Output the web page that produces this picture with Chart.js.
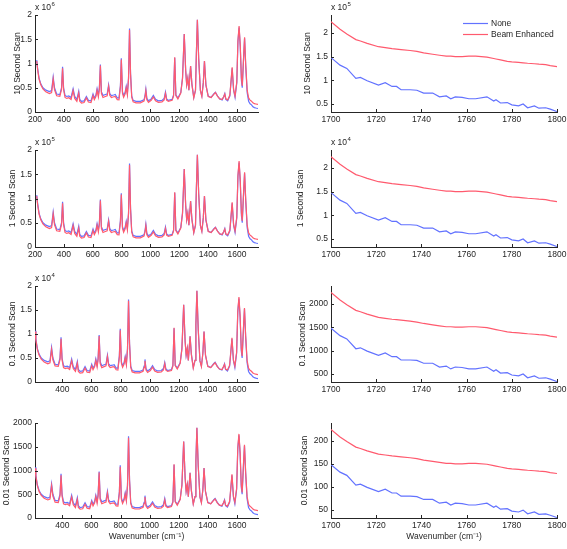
<!DOCTYPE html>
<html lang="en">
  <head>
    <title>Beam enhanced Raman scans</title>
    <script src="https://cdn.jsdelivr.net/npm/chart.js@4.4.1/dist/chart.umd.min.js"></script>
    <style>
      body { margin: 0; width: 567px; height: 549px; overflow: hidden; background: #fff; position: relative; }
      canvas { position: absolute; }
    </style>
  </head>
  <body>
    <div id="figure"></div>
    <script>
      // Full spectrum, counts of the 0.01 s scan (left column)
      const specX = [212, 218, 228, 240, 255, 275, 300, 315, 326, 335, 350, 372, 384, 391, 398, 408, 420, 434, 450, 464,
        475, 490, 503, 510, 522, 540, 556, 570, 588, 602, 611, 622, 630, 639, 646, 653, 660, 671, 687, 700,
        710, 718, 729, 745, 756, 770, 782, 792, 798, 806, 814, 824, 832, 840, 848, 855, 862, 870, 880, 900,
        930, 955, 962, 968, 975, 986, 1005, 1020, 1035, 1055, 1080, 1095, 1104, 1112, 1124, 1150, 1160, 1168, 1176, 1190,
        1210, 1222, 1234, 1244, 1251, 1259, 1266, 1278, 1287, 1300, 1312, 1318, 1325, 1334, 1346, 1356, 1366, 1374, 1384, 1400,
        1420, 1440, 1450, 1465, 1480, 1497, 1508, 1515, 1522, 1535, 1550, 1566, 1576, 1586, 1598, 1606, 1614, 1622, 1630, 1636,
        1645, 1652, 1660, 1670, 1680, 1690, 1700, 1710, 1720, 1730, 1745];
      const specNone = [1070, 900, 700, 580, 500, 450, 420, 440, 720, 500, 370, 360, 500, 930, 500, 340, 320, 330, 300, 480,
        320, 260, 430, 260, 220, 230, 320, 240, 230, 370, 290, 350, 480, 350, 500, 980, 420, 340, 360, 370,
        560, 380, 340, 350, 360, 290, 290, 550, 1110, 420, 340, 400, 530, 380, 700, 1720, 800, 330, 240, 220,
        220, 250, 330, 470, 280, 230, 270, 340, 260, 230, 240, 280, 410, 270, 240, 260, 350, 1120, 350, 290,
        400, 700, 1610, 850, 560, 700, 450, 950, 580, 300, 450, 1200, 1900, 1100, 440, 330, 600, 1050, 560, 330,
        300, 380, 410, 330, 270, 250, 320, 380, 260, 230, 330, 900, 450, 300, 600, 1450, 1740, 1350, 650, 500,
        1100, 1520, 950, 400, 220, 170, 148, 108, 90, 82, 72];
      const specBeam = [1050, 880, 680, 560, 475, 415, 380, 400, 680, 460, 335, 325, 465, 900, 460, 300, 280, 295, 260, 440,
        280, 220, 390, 220, 185, 195, 290, 205, 195, 340, 255, 320, 450, 310, 470, 960, 385, 300, 320, 335,
        530, 345, 300, 315, 320, 255, 250, 520, 1080, 390, 305, 370, 500, 355, 680, 1690, 780, 305, 210, 190,
        190, 225, 305, 440, 250, 200, 240, 310, 230, 200, 210, 250, 380, 245, 220, 240, 330, 1130, 340, 270,
        390, 690, 1610, 850, 560, 710, 450, 950, 570, 290, 450, 1200, 1900, 1100, 440, 320, 600, 1050, 560, 320,
        300, 370, 400, 320, 270, 260, 320, 370, 270, 250, 350, 920, 460, 330, 620, 1480, 1770, 1380, 700, 540,
        1120, 1540, 970, 450, 290, 245, 224, 188, 171, 165, 155];

      // 1700-1800 cm-1 detail, counts of the 0.01 s scan (right column)
      const zoomX = [1700, 1704, 1707, 1711, 1713, 1716, 1721, 1724, 1727, 1729, 1731, 1735, 1738, 1741, 1745, 1748, 1751, 1753,
        1755, 1758, 1761, 1764, 1769, 1772, 1773, 1775, 1778, 1780, 1783, 1785, 1787, 1790, 1792, 1795, 1797, 1800];
      const zoomNone = [148, 132, 125, 104, 106, 99, 90, 95, 87, 87, 80, 80, 79, 73, 73, 65, 67, 61,
        65, 64, 61, 61, 65, 56, 59, 52, 53, 48, 46, 50, 42, 46, 41, 42, 39, 34];
      const zoomBeam = [224, 208, 198, 186, 183, 178, 171, 169, 167, 166, 165, 163, 161, 158, 155, 153, 151, 151,
        150, 150, 151, 151, 149, 146, 145, 143, 140, 139, 138, 137, 136, 135, 134, 133, 131, 129];

      const scanLabels = ["10 Second Scan", "1 Second Scan", "0.1 Second Scan", "0.01 Second Scan"];
      const scanFactor = [1000, 100, 10, 1];
      const seriesLabels = ["None", "Beam Enhanced"];
      const specExponent = [6, 5, 4, 0];
      const zoomExponent = [5, 4, 0, 0];
      const specXTicks = [200, 400, 600, 800, 1000, 1200, 1400, 1600];
      const zoomXTicks = [1700, 1720, 1740, 1760, 1780, 1800];
      const specYTicks = [0, 500, 1000, 1500, 2000];
      const zoomYTicks = [50, 100, 150, 200];

      const blue = "#6272ff";
      const red = "#ff5a6e";
      const ink = "#262626";
      const fontFamily = "'Liberation Sans', Arial, sans-serif";
      const fontSize = 8.5;

      // layout of the 4x2 grid of axes
      const rowTop = [15, 150, 286, 423];
      const rowBottom = [112, 247, 382, 518];
      const colCanvasX = [0, 290];
      const colLeft = [35, 331];
      const colRight = [258, 557];
      // x centre of the rotated y-axis titles, per row, for each column
      const titleX = [[18, 13, 13, 7], [308, 301, 303, 305]];

      const decor = {
        id: "decor",
        afterDraw(chart, args, opts) {
          const { ctx, chartArea: a, scales } = chart;
          ctx.save();
          ctx.strokeStyle = ink;
          ctx.lineWidth = 1;
          ctx.beginPath();
          scales.x.ticks.forEach(t => {
            const px = Math.round(scales.x.getPixelForValue(t.value)) + 0.5;
            ctx.moveTo(px, a.bottom);
            ctx.lineTo(px, a.bottom - 3);
          });
          scales.y.ticks.forEach(t => {
            const py = Math.round(scales.y.getPixelForValue(t.value)) + 0.5;
            ctx.moveTo(a.left, py);
            ctx.lineTo(a.left + 3, py);
          });
          ctx.stroke();

          ctx.fillStyle = ink;
          ctx.textBaseline = "middle";
          ctx.textAlign = "left";
          if (opts.exponent) {
            ctx.font = fontSize + "px " + fontFamily;
            ctx.fillText("x 10", a.left, a.top - 7);
            const w = ctx.measureText("x 10").width;
            ctx.font = "6px " + fontFamily;
            ctx.fillText(String(opts.exponent), a.left + w + 0.5, a.top - 11);
          }
          if (opts.legend) {
            ctx.font = fontSize + "px " + fontFamily;
            ctx.lineWidth = 1.2;
            chart.data.datasets.forEach((ds, i) => {
              const y = a.top + 8.5 + i * 11;
              const x0 = a.left + 132;
              ctx.strokeStyle = ds.borderColor;
              ctx.beginPath();
              ctx.moveTo(x0, y);
              ctx.lineTo(x0 + 25, y);
              ctx.stroke();
              ctx.fillText(ds.label, x0 + 28, y);
            });
          }
          ctx.restore();
        }
      };

      function makeTicks(values) {
        return scale => {
          scale.ticks = values.filter(v => v >= scale.min - 1e-9 && v <= scale.max + 1e-9).map(v => ({ value: v }));
        };
      }

      function panel(row, col) {
        const cx = colCanvasX[col];
        const cy = rowTop[row] - 15;
        const bottomSpace = row === 3 ? 549 - rowBottom[row] : 22;
        const w = 290;
        const h = rowBottom[row] + bottomSpace - cy;

        const canvas = document.createElement("canvas");
        canvas.width = w;
        canvas.height = h;
        canvas.style.left = cx + "px";
        canvas.style.top = cy + "px";
        document.getElementById("figure").appendChild(canvas);

        const f = scanFactor[row];
        const xs = col === 0 ? specX : zoomX;
        const none = col === 0 ? specNone : zoomNone;
        const beam = col === 0 ? specBeam : zoomBeam;
        const exponent = col === 0 ? specExponent[row] : zoomExponent[row];
        const divisor = exponent ? Math.pow(10, exponent) : 1;
        const font = { family: fontFamily, size: fontSize };

        const xMin = col === 0 ? (row < 2 ? 200 : 212) : 1700;
        const xMax = col === 0 ? 1745 : 1800;
        const yMin = col === 0 ? 0 : 33 * f;
        const yMax = col === 0 ? 2000 * f : 238 * f;

        new Chart(canvas.getContext("2d"), {
          type: "line",
          data: {
            datasets: [
              { label: seriesLabels[0], data: xs.map((x, i) => ({ x: x, y: none[i] * f })), borderColor: blue, order: 2 },
              { label: seriesLabels[1], data: xs.map((x, i) => ({ x: x, y: beam[i] * f })), borderColor: red, order: 1 }
            ]
          },
          options: {
            responsive: false,
            animation: false,
            devicePixelRatio: 1,
            datasets: { line: { borderWidth: 1.2, pointRadius: 0, tension: 0, fill: false } },
            layout: { padding: { left: 0, top: 15, right: cx + w - colRight[col], bottom: 0 } },
            plugins: {
              legend: { display: false },
              tooltip: { enabled: false },
              decor: { exponent: exponent, legend: row === 0 && col === 1 }
            },
            scales: {
              x: {
                type: "linear",
                min: xMin,
                max: xMax,
                afterFit: s => { s.height = bottomSpace; },
                afterBuildTicks: makeTicks(col === 0 ? specXTicks : zoomXTicks),
                grid: { drawOnChartArea: false, drawTicks: false },
                border: { color: ink, width: 1 },
                ticks: { color: ink, font: font, padding: 3, maxRotation: 0, autoSkip: false, callback: v => String(v) },
                title: {
                  display: row === 3,
                  text: "Wavenumber (cm\u207B\u00B9)",
                  color: ink,
                  font: font,
                  padding: { top: 0, bottom: 7 }
                }
              },
              y: {
                min: yMin,
                max: yMax,
                afterFit: s => { s.width = colLeft[col] - cx; },
                afterBuildTicks: makeTicks((col === 0 ? specYTicks : zoomYTicks).map(v => v * f)),
                grid: { drawOnChartArea: false, drawTicks: false },
                border: { color: ink, width: 1 },
                ticks: { color: ink, font: font, padding: 3, autoSkip: false, callback: v => String(+(v / divisor).toFixed(3)) },
                title: {
                  display: true,
                  text: scanLabels[row],
                  color: ink,
                  font: font,
                  padding: { top: titleX[col][row] - cx - fontSize * 0.6, bottom: 0 }
                }
              }
            }
          },
          plugins: [decor]
        });
      }

      for (let r = 0; r < 4; r++) {
        panel(r, 0);
        panel(r, 1);
      }
    </script>
  </body>
</html>
